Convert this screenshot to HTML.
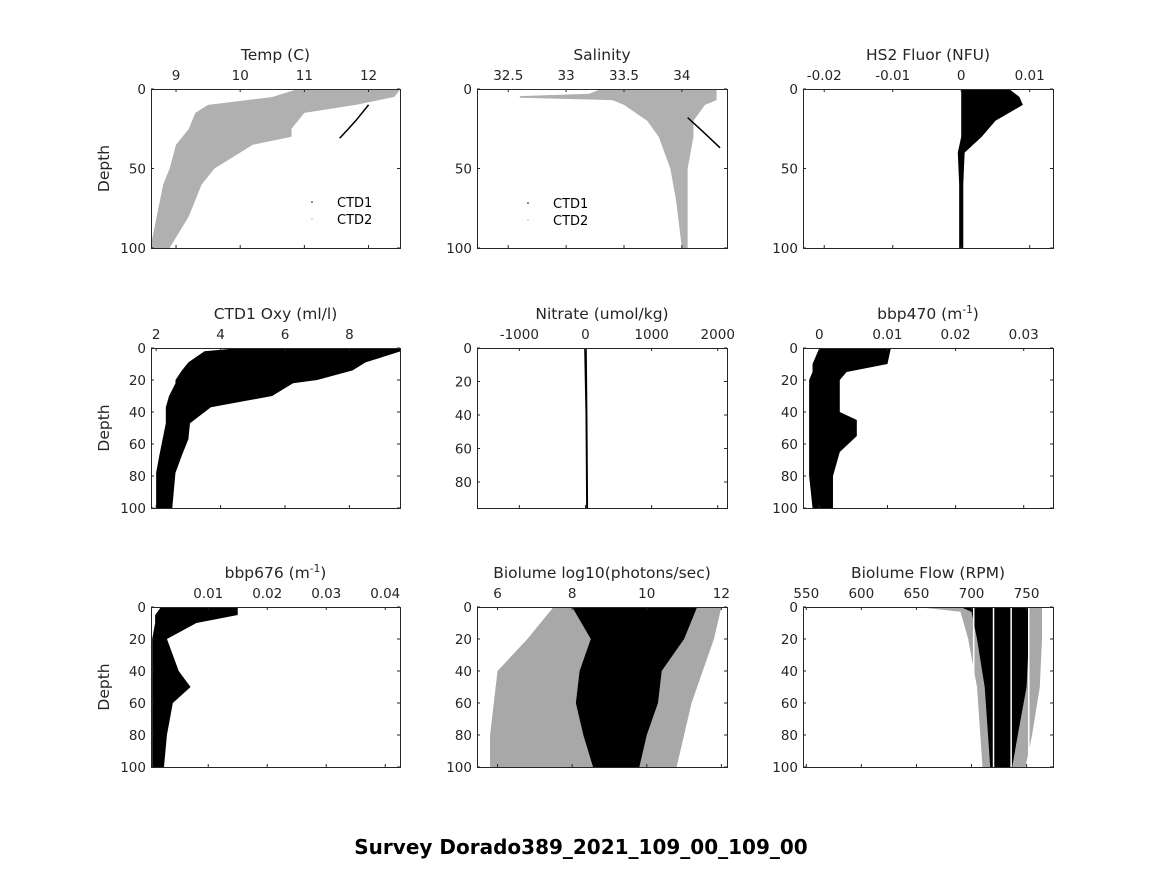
<!DOCTYPE html>
<html><head><meta charset="utf-8"><style>
body{margin:0;background:#fff;}
svg{font-family:"DejaVu Sans","Liberation Sans",sans-serif;}
</style></head><body>
<svg id="fig" width="1164" height="864" viewBox="0 0 1164 864">
<rect width="1164" height="864" fill="#fff"/>
<text x="581" y="854" text-anchor="middle" font-size="20" font-weight="bold">Survey Dorado389_2021_109_00_109_00</text>
</svg>
<script>
// ---- data arrays (envelopes per depth) ----
const tempDepth=[0,5,10,15,25,30,35,50,60,80,100];
const tempLo=[10.9,10.5,9.5,9.3,9.2,9.1,9.0,8.9,8.8,8.7,8.6];
const tempHi=[12.5,12.4,11.8,11.0,10.8,10.8,10.2,9.6,9.4,9.2,8.9];
const tempCtd1Depth=[10,20,31];
const tempCtd1Val=[12.0,11.8,11.55];
const salDepth=[0,3,4.5,5.5,7,10,20,30,50,70,100];
const salLo=[33.3,33.2,32.6,32.6,33.4,33.5,33.7,33.8,33.9,33.95,34.0];
const salHi=[34.3,34.3,34.3,34.3,34.3,34.2,34.1,34.1,34.05,34.05,34.05];
const salCtd1Depth=[18,28,37];
const salCtd1Val=[34.05,34.2,34.33];
const fluDepth=[0,5,10,20,30,40,60,100];
const fluLo=[0.0,0.0,0.0,0.0,0.0,-0.0005,-0.0003,-0.0003];
const fluHi=[0.007,0.0085,0.009,0.005,0.003,0.0005,0.0003,0.0003];
const oxyDepth=[0,2,9,14,20,22,30,37,47,57,67,78,100];
const oxyLo=[4.6,3.5,3.0,2.8,2.6,2.6,2.4,2.3,2.3,2.2,2.1,2.0,2.0];
const oxyHi=[9.6,9.6,8.5,8.1,7.0,6.25,5.6,3.7,3.05,3.0,2.8,2.6,2.5];
const nitDepth=[0,40,95.5];
const nitLo=[-20,0,10];
const nitHi=[20,30,40];
const b470Depth=[0,10,15,20,40,45,55,65,80,100];
const b470Lo=[0.0,-0.001,-0.001,-0.0015,-0.0015,-0.0015,-0.0015,-0.0015,-0.0015,-0.001];
const b470Hi=[0.0105,0.010,0.004,0.003,0.003,0.0055,0.0055,0.003,0.002,0.002];
const b676Depth=[0,5,10,20,40,50,60,80,100];
const b676Lo=[0.002,0.001,0.001,0.0005,0.0005,0.0005,0.0005,0.0005,0.0005];
const b676Hi=[0.015,0.015,0.008,0.003,0.005,0.007,0.004,0.003,0.0025];
const bioDepth=[0,20,40,60,80,100];
const bioLo=[8.0,8.5,8.2,8.1,8.3,8.56];
const bioHi=[11.35,11.0,10.4,10.3,10.0,9.8];
const bioHaloLo=[7.5,6.8,6.0,5.9,5.8,5.8];
const bioHaloHi=[12.0,11.8,11.5,11.2,11.0,10.8];
const flowDepth=[0,3,20,50,80,100];
const flowLo=[690,700,705,712,715,717];
const flowHi=[752,752,752,750,742,737];
const flowHaloLo=[650,690,697,705,708,710];
const flowHaloHi=[764,764,764,762,755,749];
const flowGaps=[702,720,736,752];

const NS="http://www.w3.org/2000/svg";
const fig=document.getElementById('fig');
function mk(tag,attrs,parent){const e=document.createElementNS(NS,tag);for(const k in attrs)e.setAttribute(k,attrs[k]);(parent||fig).appendChild(e);return e;}

const panels=[
 {name:'temp',title:'Temp (C)',x0:151,x1:400,y0:89,y1:248,xmin:8.61,xmax:12.49,ymax:100,xt:[9,10,11,12],yt:[0,50,100],d:tempDepth,lo:tempLo,hi:tempHi,fill:'#b0b0b0',line:[tempCtd1Depth,tempCtd1Val],legend:[337,207]},
 {name:'salinity',title:'Salinity',x0:477,x1:727,y0:89,y1:248,xmin:32.23,xmax:34.39,ymax:100,xt:[32.5,33,33.5,34],yt:[0,50,100],d:salDepth,lo:salLo,hi:salHi,fill:'#b0b0b0',line:[salCtd1Depth,salCtd1Val],legend:[553,208]},
 {name:'hs2-fluor',title:'HS2 Fluor (NFU)',x0:803,x1:1053,y0:89,y1:248,xmin:-0.0231,xmax:0.0134,ymax:100,xt:[-0.02,-0.01,0,0.01],yt:[0,50,100],d:fluDepth,lo:fluLo,hi:fluHi,fill:'#000'},
 {name:'oxygen',title:'CTD1 Oxy (ml/l)',x0:151,x1:400,y0:348,y1:508,xmin:1.84,xmax:9.57,ymax:100,xt:[2,4,6,8],yt:[0,20,40,60,80,100],d:oxyDepth,lo:oxyLo,hi:oxyHi,fill:'#000'},
 {name:'nitrate',title:'Nitrate (umol/kg)',x0:477,x1:727,y0:348,y1:508,xmin:-1640,xmax:2140,ymax:95.5,xt:[-1000,0,1000,2000],yt:[0,20,40,60,80],d:nitDepth,lo:nitLo,hi:nitHi,fill:'#000'},
 {name:'bbp470',title:'bbp470 (m',sup:true,x0:803,x1:1053,y0:348,y1:508,xmin:-0.0024,xmax:0.0343,ymax:100,xt:[0,0.01,0.02,0.03],yt:[0,20,40,60,80,100],d:b470Depth,lo:b470Lo,hi:b470Hi,fill:'#000'},
 {name:'bbp676',title:'bbp676 (m',sup:true,x0:151,x1:400,y0:607,y1:767,xmin:0.0003,xmax:0.0425,ymax:100,xt:[0.01,0.02,0.03,0.04],yt:[0,20,40,60,80,100],d:b676Depth,lo:b676Lo,hi:b676Hi,fill:'#000'},
 {name:'biolume',title:'Biolume log10(photons/sec)',x0:477,x1:727,y0:607,y1:767,xmin:5.45,xmax:12.15,ymax:100,xt:[6,8,10,12],yt:[0,20,40,60,80,100],d:bioDepth,lo:bioLo,hi:bioHi,fill:'#000',halo:[bioHaloLo,bioHaloHi]},
 {name:'biolume-flow',title:'Biolume Flow (RPM)',x0:803,x1:1053,y0:607,y1:767,xmin:547,xmax:774,ymax:100,xt:[550,600,650,700,750],yt:[0,20,40,60,80,100],d:flowDepth,lo:flowLo,hi:flowHi,fill:'#000',halo:[flowHaloLo,flowHaloHi],gaps:flowGaps}
];

panels.forEach(p=>{
 const g=mk('g',{});
 
 
 const sx=v=>p.x0+(v-p.xmin)/(p.xmax-p.xmin)*(p.x1-p.x0);
 const sy=v=>p.y0+v/p.ymax*(p.y1-p.y0);
 const clip=mk('clipPath',{id:'c-'+p.name},g);
 mk('rect',{x:p.x0,y:p.y0,width:p.x1-p.x0,height:p.y1-p.y0},clip);
 const env=(lo,hi,d)=>{let pts=d.map((dd,i)=>sx(lo[i])+','+sy(dd));for(let i=d.length-1;i>=0;i--)pts.push(sx(hi[i])+','+sy(d[i]));return pts.join(' ');};
 if(p.halo){
  const h=mk('polygon',{points:env(p.halo[0],p.halo[1],p.d),fill:'#a8a8a8','clip-path':'url(#c-'+p.name+')'},g);
  
  
 }
 const poly=mk('polygon',{points:env(p.lo,p.hi,p.d),fill:p.fill,'clip-path':'url(#c-'+p.name+')'},g);
 
 
 if(p.gaps){p.gaps.forEach(v=>{const l=mk('line',{x1:sx(v),x2:sx(v),y1:p.y0,y2:p.y1,stroke:'#fff','stroke-width':1.5},g);
  
  });}
 if(p.line){const pl=mk('polyline',{points:p.line[0].map((dd,i)=>sx(p.line[1][i])+','+sy(dd)).join(' '),fill:'none',stroke:'#000','stroke-width':1.5},g);
  
  }
 const box=mk('rect',{x:p.x0+0.5,y:p.y0+0.5,width:p.x1-p.x0,height:p.y1-p.y0,fill:'none',stroke:'#262626','stroke-width':1},g);
 
 
 p.xt.forEach(v=>{const x=sx(v);
  mk('line',{x1:x,x2:x,y1:p.y0,y2:p.y0+3,stroke:'#262626'},g);
  mk('line',{x1:x,x2:x,y1:p.y1,y2:p.y1-3,stroke:'#262626'},g);
  const t=mk('text',{x:x,y:p.y0-9,'text-anchor':'middle','font-size':13.5,fill:'#262626'},g);t.textContent=String(v);
  
  });
 p.yt.forEach(v=>{const y=sy(v);
  mk('line',{x1:p.x0,x2:p.x0+3,y1:y,y2:y,stroke:'#262626'},g);
  mk('line',{x1:p.x1,x2:p.x1-3,y1:y,y2:y,stroke:'#262626'},g);
  const t=mk('text',{x:p.x0-5,y:y+5,'text-anchor':'end','font-size':13.5,fill:'#262626'},g);t.textContent=String(v);
  
  });
 const tt=mk('text',{x:(p.x0+p.x1)/2,y:p.y0-29,'text-anchor':'middle','font-size':15.5,fill:'#262626'},g);
 
 
 if(p.sup){tt.innerHTML=p.title+'<tspan dy="-6" font-size="10.5">-1</tspan><tspan dy="6">)</tspan>';}else tt.textContent=p.title;
 if(p.x0<200){const yl=mk('text',{x:0,y:0,transform:'translate(109,'+((p.y0+p.y1)/2)+') rotate(-90)','text-anchor':'middle','font-size':15.5,fill:'#262626'},g);yl.textContent='Depth';
  
  }
 if(p.legend){const [lx,ly]=p.legend;
  ['CTD1','CTD2'].forEach((s,i)=>{mk('circle',{cx:lx-25,cy:ly-5+i*17,r:0.8,fill:i?'#b0b0b0':'#000'},g);
   const lt=mk('text',{x:lx,y:ly+i*17,'font-size':13,fill:'#000'},g);lt.textContent=s;
   
   });}
});
</script>
</body></html>
